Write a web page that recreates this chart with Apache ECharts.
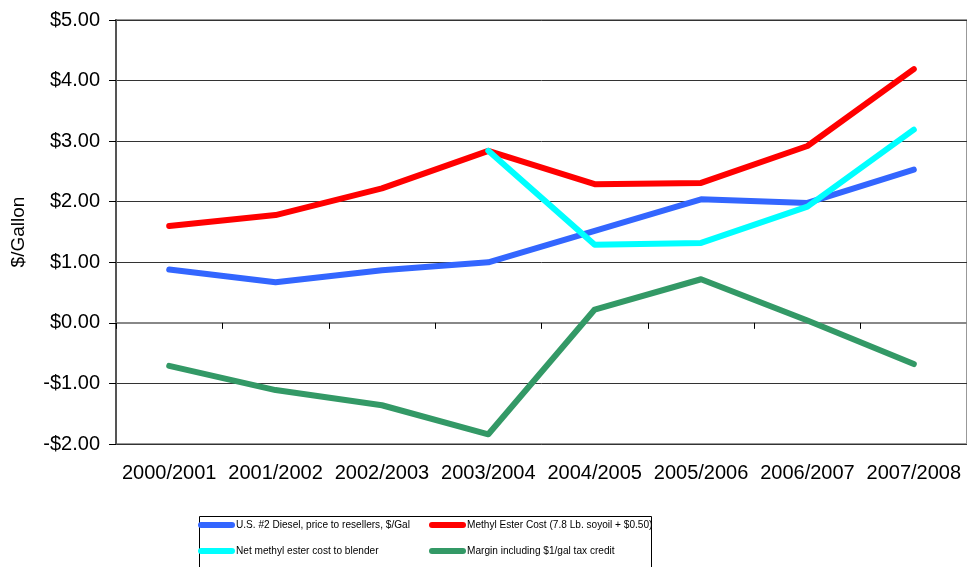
<!DOCTYPE html>
<html>
<head>
<meta charset="utf-8">
<script src="https://cdn.jsdelivr.net/npm/echarts@6/dist/echarts.min.js"></script>
<style>
  html, body { margin: 0; padding: 0; background: #fff; }
  #chart { width: 967px; height: 567px; }
</style>
</head>
<body>
<div id="chart"></div>
<script>
// chart data
const years = ['2000/2001', '2001/2002', '2002/2003', '2003/2004', '2004/2005', '2005/2006', '2006/2007', '2007/2008'];
const seriesNames = [
  'U.S. #2 Diesel, price to resellers, $/Gal',
  'Methyl Ester Cost (7.8 Lb. soyoil + $0.50)',
  'Net methyl ester cost to blender',
  'Margin including $1/gal tax credit'
];
const diesel = [0.88, 0.67, 0.87, 1.00, 1.52, 2.04, 1.98, 2.53];
const esterCost = [1.60, 1.78, 2.22, 2.84, 2.29, 2.31, 2.92, 4.19];
const netEster = [null, null, null, 2.84, 1.29, 1.32, 1.92, 3.19];
const margin = [-0.71, -1.11, -1.36, -1.84, 0.22, 0.72, 0.04, -0.68];
const yTicks = { min: -2, max: 5, step: 1 };
const colors = ['#3366FF', '#FF0000', '#00FFFF', '#339966'];

const chart = echarts.init(document.getElementById('chart'));

const legendText = {
  fontFamily: "'Liberation Sans', Arial, sans-serif",
  fontSize: 10.1,
  color: '#000',
  padding: [0, 0, 0, -4]
};
const pill = 'path://M3,0 H34 A3,3 0 0 1 34,6 H3 A3,3 0 0 1 3,0 Z';
function legendAt(name, x, y) {
  return {
    data: [name], left: x, top: y, padding: 0, selectedMode: false,
    itemWidth: 37, itemHeight: 7, icon: pill, textStyle: legendText
  };
}

function money(v) {
  return (v < 0 ? '-$' : '$') + Math.abs(v).toFixed(2);
}

function lineSeries(name, data, color) {
  return {
    name: name, type: 'line', data: data, xAxisIndex: 0,
    symbol: 'none', color: color, silent: true,
    lineStyle: { width: 6, color: color, cap: 'round', join: 'round' }
  };
}

const option = {
  backgroundColor: '#fff',
  animation: false,
  textStyle: { fontFamily: "'Liberation Sans', Arial, sans-serif" },
  grid: {
    left: 116, top: 20, width: 856, height: 424,
    show: true, borderColor: '#999', borderWidth: 2, backgroundColor: 'transparent'
  },
  xAxis: [
    {
      type: 'category', data: years, boundaryGap: true,
      axisLine: { onZero: true, lineStyle: { color: '#888', width: 2 } },
      axisTick: { show: true, length: 6, interval: 0, lineStyle: { color: '#000' } },
      axisLabel: { show: false },
      splitLine: { show: false }
    },
    {
      type: 'category', data: years, boundaryGap: true, position: 'bottom',
      axisLine: { show: false, onZero: false },
      axisTick: { show: false },
      axisLabel: { fontSize: 20, color: '#000', margin: 19, interval: 0 },
      splitLine: { show: false }
    }
  ],
  yAxis: {
    type: 'value', min: yTicks.min, max: yTicks.max, interval: yTicks.step,
    name: '$/Gallon', nameLocation: 'middle', nameGap: 88, nameRotate: 90,
    nameTextStyle: { fontSize: 19, color: '#000' },
    axisLine: { show: true, lineStyle: { color: '#555', width: 2 } },
    axisTick: { show: true, length: 7, lineStyle: { color: '#000' } },
    axisLabel: { fontSize: 20, color: '#000', margin: 16, formatter: money },
    splitLine: { show: true, lineStyle: { color: '#333', width: 1 } }
  },
  legend: [
    legendAt(seriesNames[0], 198, 520),
    legendAt(seriesNames[1], 429, 520),
    legendAt(seriesNames[2], 198, 546),
    legendAt(seriesNames[3], 429, 546)
  ],
  graphic: [{
    type: 'rect', left: 197, top: 514, silent: true,
    shape: { width: 452, height: 70 },
    style: { fill: 'none', stroke: '#000', lineWidth: 1 }
  }],
  series: [
    lineSeries(seriesNames[0], diesel, colors[0]),
    lineSeries(seriesNames[1], esterCost, colors[1]),
    lineSeries(seriesNames[2], netEster, colors[2]),
    lineSeries(seriesNames[3], margin, colors[3])
  ]
};

chart.setOption(option);
</script>
</body>
</html>
